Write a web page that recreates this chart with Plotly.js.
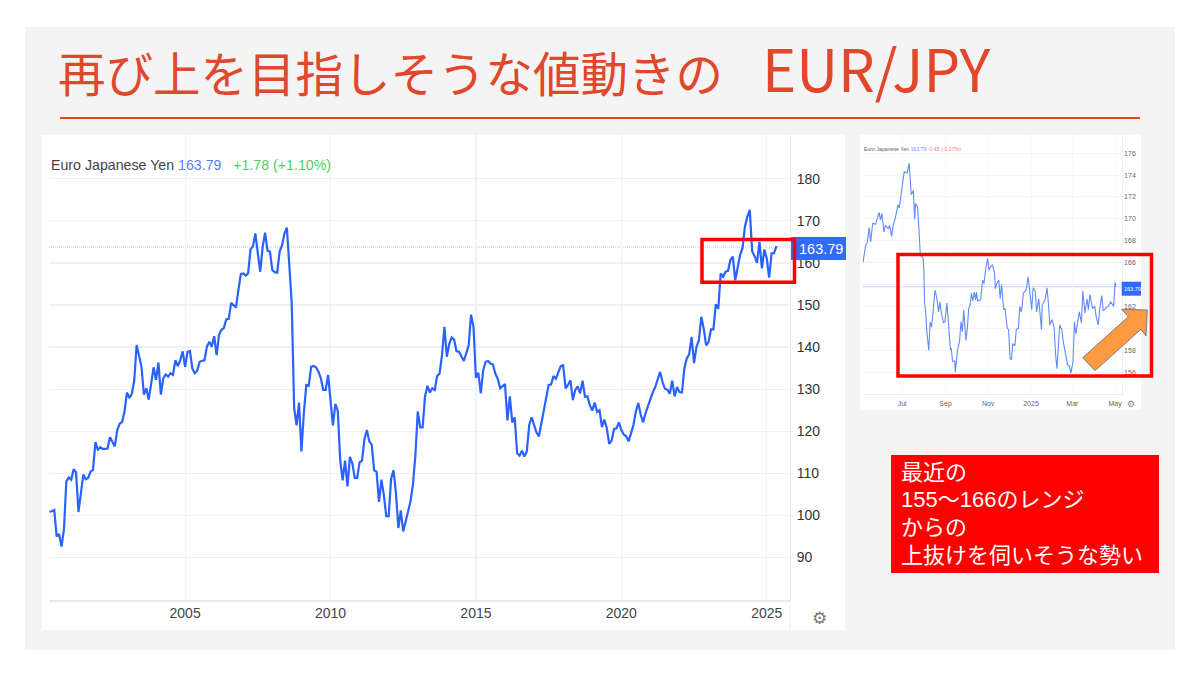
<!DOCTYPE html>
<html><head><meta charset="utf-8">
<script src="https://cdn.plot.ly/plotly-3.0.1.min.js"></script>
<style>html,body{margin:0;padding:0;background:#fff}#c{width:1200px;height:675px}</style>
</head><body><div id="c"></div>
<script>
const startYear = 2000 + 4/12; // May 2000, monthly closes
const monthlyClose = [
100.9,101.0,101.3,95,95.6,92.6,96.6,108.1,
109,108.5,111,110.2,100.8,106,109.7,108.6,108.9,110.4,110.8,117.4,
115.6,116.2,115.8,115.8,115.9,118.6,117.3,116.4,120.3,121.8,122.2,124.7,
129.2,127.9,128.9,132,140.5,138.1,135.3,128.7,130.2,127.5,131.8,135.2,
132.2,136.3,128.7,132.6,133.5,133,133.8,133.4,136.9,135.5,136.9,139,
135.3,138.9,139.1,134.9,133.8,134.4,136.5,136.8,136.9,140.1,141.3,140.1,
142.6,138.1,142.9,144.1,144.5,146.6,146.7,150.5,150,149.4,153.6,157.4,
157.5,157,157.5,163.2,164,167,162.3,157.9,163.8,167.2,162.9,162.7,
158.3,157.8,157.7,162.7,164.2,167,168.4,159.9,150.4,125.5,121.4,126.8,
115.2,124.3,131,130.8,135.3,135.5,135.2,134.2,132.6,129.8,129.8,133.4,
126.7,121.4,126.5,124.9,113.2,108.3,113,106.9,113.9,112.4,108.9,108.9,
112.6,113,118.1,120.3,117.6,116.8,110.7,110.4,103.2,108.5,104.9,99.8,
99.8,108.7,110.7,105.3,97,101.2,96.2,98.6,100.3,103.3,107.3,114,
124.7,120.9,120.9,128.3,130.8,129.2,130.2,129.8,133.1,133.7,138.1,144.8,
137.7,140.8,142.3,141.8,139,138.9,137.8,136.7,138.5,140.4,147.7,144.8,
132.7,133.9,129,134.5,136.5,136.7,136.1,135.9,133.7,132.5,130.2,130.6,
131.2,122.6,128.3,122.1,123.3,114.8,114.2,115.4,114,115.2,121.5,123.3,
121.5,119.7,118.8,121.9,125.1,128.7,131,131.1,133.1,132.5,134.1,135.5,
135.7,130.2,131,132.1,127.4,129.8,130.7,129,132,128.2,128.3,126.2,
124.9,126.8,124.6,125,121,122.8,120.7,117,117.8,120.5,120.7,122.1,
120.3,119.2,118.8,117.6,119.5,121.5,124.7,126.7,123.9,122.1,124.3,126,
127.8,129.3,130.5,132.1,134.1,131.7,130.1,129.9,128.9,132,128.3,130.5,
129.3,129.2,134.9,137.3,138.3,142.4,136.2,140,141.6,147.2,144.4,140.4,
141.2,144.2,144.2,150.2,149.1,157.5,156.7,157.9,158.1,160.7,161.5,155.9,
158.7,161.9,163.5,168.6,171,172.6,162.7,161.6,160,165,158.7,163.2,
161.1,156.5,162.3,162.3,164
];
const monthlyYears = monthlyClose.map((_, i) => startYear + i / 12);
const mainYearTicks = [2005, 2010, 2015, 2020, 2025];
const mainPriceTicks = [90, 100, 110, 120, 130, 140, 150, 160, 170, 180];
const lastPrice = 163.79;

// Inset: days counted from 1 Jul 2024
const insetDays = [-56,-52,-50,-47,-45,-42,-38,-35,-33,-31,-29,-26,-24,-20,-18,-15,-13,-10,-6,-4,-1,1,3,7,10,13,16,18,19,22,24,26,30,31,32,34,35,38,40,42,44,47,50,52,54,56,59,61,64,66,67,69,70,72,75,76,79,82,84,86,88,91,93,95,97,99,101,103,105,106,108,112,115,117,119,122,124,126,129,132,133,135,138,140,142,145,147,150,152,154,156,158,161,163,166,168,170,171,173,177,180,182,185,187,190,192,195,199,200,204,207,209,211,214,217,219,221,225,228,230,234,236,239,241,244,246,248,250,253,256,258,261,264,266,268,272,275,277,280,282,285,287,290,293,295,298,302,304,305];
const insetClose = [166,167.6,167.8,169.2,167.9,169.6,169.5,170.3,170.6,169.9,170.5,168.8,169.4,169.1,169.4,168.4,169.4,170,171.3,171,172.2,173.4,174.3,174.2,175.1,172.2,172.6,170,171.4,171.1,169,166.7,166.4,165.3,162.4,161.2,159.9,158,160.6,160.1,161.4,163.5,162.6,161.5,162.4,161.4,160.5,160.6,162.3,160.2,159.2,158,158.2,157,157,156,158,158.8,160.6,159.7,161.7,158.9,159.9,161.8,162.1,163.2,162.5,163.3,162.6,163.3,162.5,162.6,164.4,164.1,165.3,166.4,165.3,165.6,165.8,165,163.6,164.1,164.4,162.7,164,161.7,161.8,160,159.9,157.3,157.1,158.6,158.4,159.9,160,162,161.5,161.8,163.2,163.5,164.7,163.2,161.7,163.7,163.4,161.5,162.7,159.9,162.1,162.6,163.7,162.1,160.3,160.8,160.1,157.7,156.3,160.3,159.9,158.8,157.3,156.7,156.5,155.9,157,160.6,159.5,160.2,161.5,160.5,163.4,161.4,162.7,161.7,163.1,161.8,162,161.1,160.3,161.7,163,161.6,161.8,161.9,162.1,162.4,162,164.2,163.8];
const insetTickDays = [0, 62, 123, 184, 243, 304];
const insetTickText = ['Jul', 'Sep', 'Nov', '2025', 'Mar', 'May'];
const insetPriceTicks = [156, 158, 160, 162, 164, 166, 168, 170, 172, 174, 176];
const insetPriceText = ['156', '158', '160', '162', '', '166', '168', '170', '172', '174', '176']; // 164 sits under the price tag
const noteLines = ['最近の', '155～166のレンジ', 'からの', '上抜けを伺いそうな勢い'];

const X = p => p / 1200, Y = p => 1 - p / 675;
const ARIAL = '"Liberation Sans", Arial, sans-serif';
const CJK = '"Noto Sans CJK JP", sans-serif';
const NOTE = '"Liberation Sans", "Noto Sans CJK JP", sans-serif';
const RED = '#ff0000', TITLE = '#e0472b', BLUE = '#2962ff';

const rect = (x0, y0, x1, y1, fill, line, lw, layer) => ({
  type: 'rect', xref: 'paper', yref: 'paper', x0: X(x0), x1: X(x1), y0: Y(y0), y1: Y(y1),
  fillcolor: fill || 'rgba(0,0,0,0)', line: {color: line || 'rgba(0,0,0,0)', width: lw || 0}, layer: layer || 'below'
});
const seg = (x0, y0, x1, y1, color, w) => ({
  type: 'line', xref: 'paper', yref: 'paper', x0: X(x0), x1: X(x1), y0: Y(y0), y1: Y(y1),
  line: {color, width: w}, layer: 'below'
});
const poly = pts => 'M' + pts.map(p => X(p[0]) + ',' + Y(p[1])).join('L') + 'Z';
const txt = (x, y, text, size, color, family, xanchor) => ({
  xref: 'paper', yref: 'paper', x: X(x), y: Y(y), text, showarrow: false, align: 'left', borderpad: 0,
  xanchor: xanchor || 'left', yanchor: 'middle', font: {size, color, family}
});

const traces = [
  {x: monthlyYears, y: monthlyClose, type: 'scatter', mode: 'lines', xaxis: 'x', yaxis: 'y',
   line: {color: BLUE, width: 2.2}, hoverinfo: 'skip'},
  {x: insetDays, y: insetClose, type: 'scatter', mode: 'lines', xaxis: 'x2', yaxis: 'y2',
   line: {color: '#5f8bff', width: 1.1}, hoverinfo: 'skip'}
];

const layout = {
  width: 1200, height: 675, margin: {l: 0, r: 0, t: 0, b: 0}, showlegend: false,
  paper_bgcolor: '#ffffff', plot_bgcolor: 'rgba(0,0,0,0)',
  title: {text: '再び上を目指しそうな値動きの<span style="font-size:58px">   EUR/JPY</span>', x: X(58), xanchor: 'left', y: Y(75), yanchor: 'middle',
          font: {size: 47.5, color: TITLE, family: CJK}},
  xaxis: {domain: [X(49), X(790)], range: [2000.32, 2025.8], tickvals: mainYearTicks, ticktext: mainYearTicks.map(String),
          showgrid: true, gridcolor: '#eef3f8', gridwidth: 1.2, zeroline: false, showline: true, linecolor: '#e6e8ea', linewidth: 1.5,
          ticks: '', tickfont: {size: 14, color: '#444', family: ARIAL}, fixedrange: true},
  yaxis: {domain: [Y(600), Y(135)], range: [79.9, 190.4], side: 'right', tickvals: mainPriceTicks,
          showgrid: true, gridcolor: '#eef0f2', gridwidth: 1.2, zeroline: false, showline: true, linecolor: '#e6ebf0', linewidth: 1,
          ticks: 'outside', ticklen: 3, tickcolor: '#eef0f2', tickfont: {size: 14, color: '#333', family: ARIAL}, fixedrange: true},
  xaxis2: {domain: [X(862.5), X(1121.7)], range: [-56.6, 313.5], tickvals: insetTickDays, ticktext: insetTickText, anchor: 'y2',
          showgrid: true, gridcolor: '#f7f8fa', zeroline: false, showline: true, linecolor: '#eeeeee', linewidth: 1,
          ticks: 'outside', ticklen: 3, tickcolor: 'rgba(0,0,0,0)', tickfont: {size: 7, color: '#666', family: ARIAL}, fixedrange: true},
  yaxis2: {domain: [Y(394), Y(135)], range: [154, 177.66], side: 'right', anchor: 'x2', tickvals: insetPriceTicks, ticktext: insetPriceText,
          showgrid: true, gridcolor: '#f2f3f4', zeroline: false, showline: true, linecolor: '#eeeeee', linewidth: 1,
          ticks: '', tickfont: {size: 7, color: '#666', family: ARIAL}, fixedrange: true},
  shapes: [
    rect(25, 27, 1175, 650, '#f4f4f4'),
    rect(42, 135, 845, 630, '#ffffff'),
    rect(860, 135, 1141, 410, '#ffffff'),
    seg(60, 118, 1140, 118, TITLE, 2),
    seg(790, 606, 790, 630, '#e6ebf0', 1),
    // white backing of the chart header
    {type: 'rect', xref: 'x', yref: 'y', x0: 2000.32, x1: 2010.6, y0: 180.4, y1: 187.2, fillcolor: '#ffffff', line: {width: 0}, layer: 'below'},
    // last price guides
    {type: 'line', xref: 'x', yref: 'y', x0: 2000.32, x1: 2025.8, y0: lastPrice, y1: lastPrice, line: {color: '#b5caff', width: 1.2, dash: '1px,1px'}, layer: 'below'},
    {type: 'line', xref: 'x2', yref: 'y2', x0: -56.6, x1: 313.5, y0: lastPrice, y1: lastPrice, line: {color: '#c6d6ff', width: 1}, layer: 'below'},
    rect(791, 237, 846, 260, '#2f6bff', null, 0, 'above'),
    rect(1121.7, 281.7, 1141, 295.7, '#2f6bff', null, 0, 'above'),
    rect(702, 239.5, 794.5, 282.2, null, RED, 3.5, 'above'),
    rect(898, 254.5, 1151.5, 376, null, RED, 3.5, 'above'),
    {type: 'path', xref: 'paper', yref: 'paper', layer: 'above', fillcolor: '#fd9a40', line: {color: '#7f7f7f', width: 1},
     path: poly([[1147.3, 310], [1121.7, 309.3], [1128.3, 316.7], [1082.7, 357.7], [1095, 370.7], [1141, 329.3], [1146, 336]])},
    rect(891, 455, 1159, 573, RED)
  ],
  annotations: [
    txt(50, 165, 'Euro Japanese Yen <span style="color:#5b7cff">163.79</span>   <span style="color:#4fd05a">+1.78 (+1.10%)</span>', 14.2, '#444', ARIAL),
    txt(798, 249, '163.79', 14.5, '#ffffff', ARIAL),
    txt(819, 618, '⚙', 17, '#777', '"DejaVu Sans"', 'center'),
    txt(862.5, 149, 'Euro Japanese Yen <span style="color:#6f93ff">163.79</span> <span style="color:#f08080">-0.45 (-0.27%)</span>', 5.2, '#666', ARIAL),
    txt(1123, 288.7, '163.79', 5.5, '#ffffff', ARIAL),
    txt(1131, 404, '⚙', 9, '#888', '"DejaVu Sans"', 'center'),
    ...noteLines.map((line, i) => txt(900, 472 + i * 27.7, line, 22, '#ffffff', NOTE))
  ]
};
Plotly.newPlot('c', traces, layout, {displayModeBar: false, staticPlot: true});
</script></body></html>
